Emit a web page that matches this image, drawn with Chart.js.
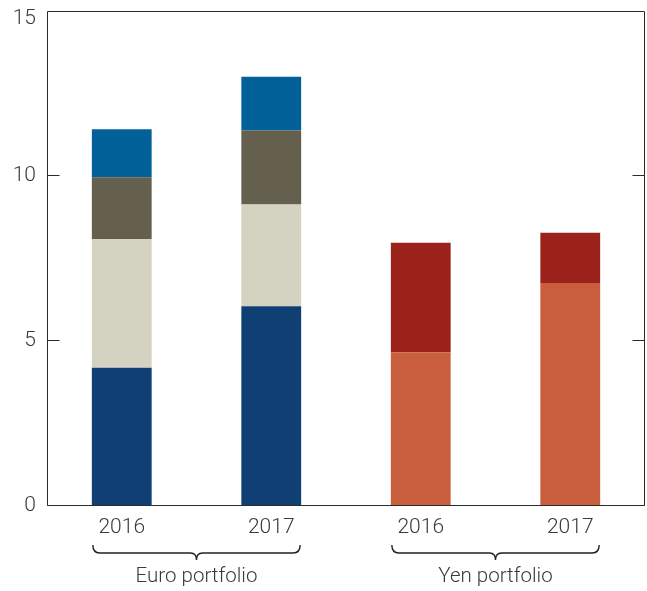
<!DOCTYPE html>
<html>
<head>
<meta charset="utf-8">
<script src="https://cdn.jsdelivr.net/npm/chart.js@4"></script>
<style>
  html, body { margin: 0; padding: 0; background: #fff; }
  #wrap { width: 647px; height: 591px; position: relative; }
</style>
</head>
<body>
<div id="wrap"><canvas id="c" width="647" height="591"></canvas></div>
<script>
const categories = ['2016', '2017', '2016', '2017'];
const groupLabels = ['Euro portfolio', 'Yen portfolio'];
const groupRanges = [[0, 1], [2, 3]];
const yTicks = [0, 5, 10, 15];

const euroSeries1 = [4.19, 6.05, null, null];
const euroSeries2 = [3.89, 3.09, null, null];
const euroSeries3 = [1.88, 2.24, null, null];
const euroSeries4 = [1.46, 1.63, null, null];
const yenSeries1 = [null, null, 4.66, 6.76];
const yenSeries2 = [null, null, 3.32, 1.52];

const FONT = 'Roboto';
const TEXT = '#3a3a3a';
const LINE = '#2b2b2b';

const framePlugin = {
  id: 'frame',
  afterDraw(chart) {
    const ctx = chart.ctx;
    const a = chart.chartArea;
    const ys = chart.scales.y;
    const xs = chart.scales.x;
    ctx.save();
    ctx.strokeStyle = LINE;
    ctx.lineWidth = 1;
    const L = Math.round(a.left) + 0.5, R = Math.round(a.right) - 0.5;
    const T = Math.round(a.top) + 0.5, B = Math.round(a.bottom) - 0.5;
    ctx.beginPath();
    ctx.rect(L, T, R - L, B - T);
    ctx.stroke();
    ctx.font = '300 21px ' + FONT;
    ctx.fillStyle = TEXT;
    ctx.textAlign = 'right';
    ctx.textBaseline = 'middle';
    yTicks.forEach(v => {
      const py = Math.round(ys.getPixelForValue(v)) - 0.5;
      if (v !== 15) {
        ctx.beginPath();
        ctx.moveTo(L, py); ctx.lineTo(L + 12, py);
        ctx.moveTo(R, py); ctx.lineTo(R - 12, py);
        ctx.stroke();
      }
      const ly = Math.max(ys.getPixelForValue(v), a.top + 8);
      ctx.fillText(String(v), a.left - 11, ly);
    });
    const catW = (xs.right - xs.left) / categories.length;
    const half = catW * 0.4 / 2;
    ctx.lineWidth = 1.4;
    ctx.strokeStyle = '#222';
    ctx.font = '300 20.5px ' + FONT;
    groupRanges.forEach((r, i) => {
      const x0 = xs.getPixelForValue(r[0]) - half + 1;
      const x1 = xs.getPixelForValue(r[1]) + half - 1;
      const cx = (x0 + x1) / 2;
      const yTop = a.bottom + 39, yMid = a.bottom + 47, yTip = a.bottom + 54;
      ctx.beginPath();
      ctx.moveTo(x0, yTop);
      ctx.quadraticCurveTo(x0, yMid, x0 + 7, yMid);
      ctx.lineTo(cx - 6, yMid);
      ctx.quadraticCurveTo(cx, yMid, cx, yTip);
      ctx.quadraticCurveTo(cx, yMid, cx + 6, yMid);
      ctx.lineTo(x1 - 7, yMid);
      ctx.quadraticCurveTo(x1, yMid, x1, yTop);
      ctx.stroke();
      ctx.textAlign = 'center';
      ctx.textBaseline = 'middle';
      ctx.fillText(groupLabels[i], cx, a.bottom + 71);
    });
    ctx.restore();
  }
};

new Chart(document.getElementById('c'), {
  type: 'bar',
  data: {
    labels: categories,
    datasets: [
      { data: euroSeries1, backgroundColor: '#0f3f73' },
      { data: euroSeries2, backgroundColor: '#d4d2c1' },
      { data: euroSeries3, backgroundColor: '#655f4d' },
      { data: euroSeries4, backgroundColor: '#016198' },
      { data: yenSeries1, backgroundColor: '#c85e3c' },
      { data: yenSeries2, backgroundColor: '#9b221b' }
    ]
  },
  options: {
    responsive: false,
    animation: false,
    devicePixelRatio: 1,
    datasets: { bar: { barPercentage: 0.4, categoryPercentage: 1, borderWidth: 0 } },
    layout: { padding: { top: 11, right: 2, left: 0, bottom: 0 } },
    plugins: { legend: { display: false }, tooltip: { enabled: false } },
    scales: {
      x: {
        stacked: true,
        grid: { display: false, drawTicks: false },
        border: { display: false },
        ticks: { color: TEXT, font: { family: FONT, size: 21, weight: '300' }, padding: 9, maxRotation: 0 },
        afterFit(s) { s.height = 85; }
      },
      y: {
        stacked: true,
        min: 0, max: 15,
        grid: { display: false, drawTicks: false },
        border: { display: false },
        ticks: { display: false, stepSize: 5 },
        afterFit(s) { s.width = 47; }
      }
    }
  },
  plugins: [framePlugin]
});
</script>
</body>
</html>
